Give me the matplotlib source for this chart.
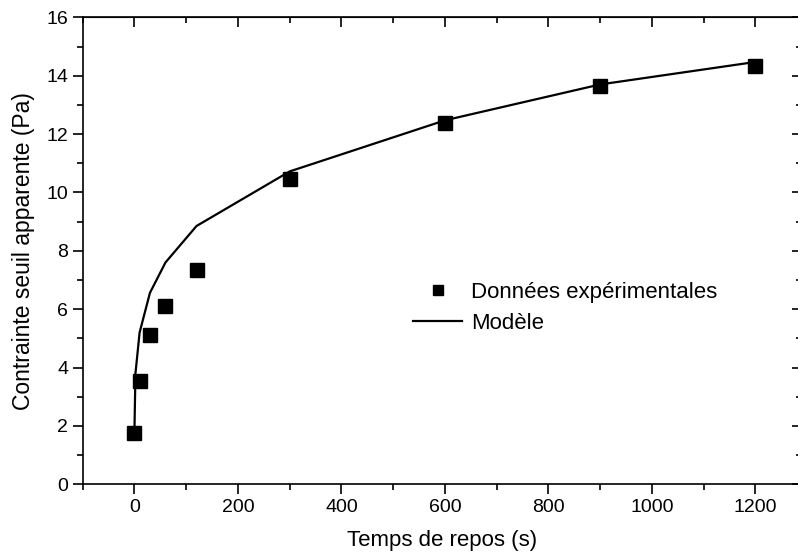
import matplotlib
matplotlib.use("Agg")
import matplotlib.pyplot as plt
from matplotlib.ticker import MultipleLocator

plt.rcParams['font.family'] = ['Liberation Sans', 'DejaVu Sans']

# experimental points
temps_exp = [0, 10, 30, 60, 120, 300, 600, 900, 1200]
contrainte_exp = [1.77, 3.55, 5.11, 6.10, 7.35, 10.45, 12.39, 13.66, 14.34]

# model curve
temps_mod = [0, 2, 10, 30, 60, 120, 300, 600, 900, 1200]
contrainte_mod = [1.8, 3.8, 5.2, 6.56, 7.6, 8.85, 10.72, 12.47, 13.7, 14.47]

fig = plt.figure(figsize=(7.98, 5.55), dpi=100)
ax = fig.add_axes([0.1036, 0.1274, 0.9014, 0.8414])

ax.plot(temps_exp, contrainte_exp, linestyle='none', marker='s', markersize=10,
        color='black', label='Données expérimentales')
ax.plot(temps_mod, contrainte_mod, color='black', linewidth=1.6, label='Modèle')

ax.set_xlim(-100, 1290)
ax.set_ylim(0, 16)
ax.xaxis.set_major_locator(MultipleLocator(200))
ax.xaxis.set_minor_locator(MultipleLocator(100))
ax.yaxis.set_major_locator(MultipleLocator(2))
ax.yaxis.set_minor_locator(MultipleLocator(1))

for s in ax.spines.values():
    s.set_linewidth(1.2)

ax.tick_params(which='major', direction='out', length=7, width=1.2, labelsize=14,
               top=False, right=False)
ax.tick_params(which='minor', direction='out', length=4, width=1.2, top=False, right=False)

# top and right ticks point inward
top = ax.secondary_xaxis('top')
top.xaxis.set_major_locator(MultipleLocator(200))
top.xaxis.set_minor_locator(MultipleLocator(100))
top.tick_params(which='major', direction='in', length=7, width=1.2, labeltop=False)
top.tick_params(which='minor', direction='in', length=4, width=1.2)
right = ax.secondary_yaxis('right')
right.yaxis.set_major_locator(MultipleLocator(2))
right.yaxis.set_minor_locator(MultipleLocator(1))
right.tick_params(which='major', direction='in', length=7, width=1.2, labelright=False)
right.tick_params(which='minor', direction='in', length=4, width=1.2)

ax.set_xlabel('Temps de repos (s)', fontsize=16, labelpad=10)
ax.set_ylabel('Contrainte seuil apparente (Pa)', fontsize=16.5, labelpad=8)

ax.legend(loc='center left', bbox_to_anchor=(0.432, 0.378), frameon=False,
          fontsize=16, numpoints=1, markerscale=0.7, handlelength=2.2,
          handletextpad=0.4, labelspacing=0.45)

fig.savefig('out.png', dpi=100)
